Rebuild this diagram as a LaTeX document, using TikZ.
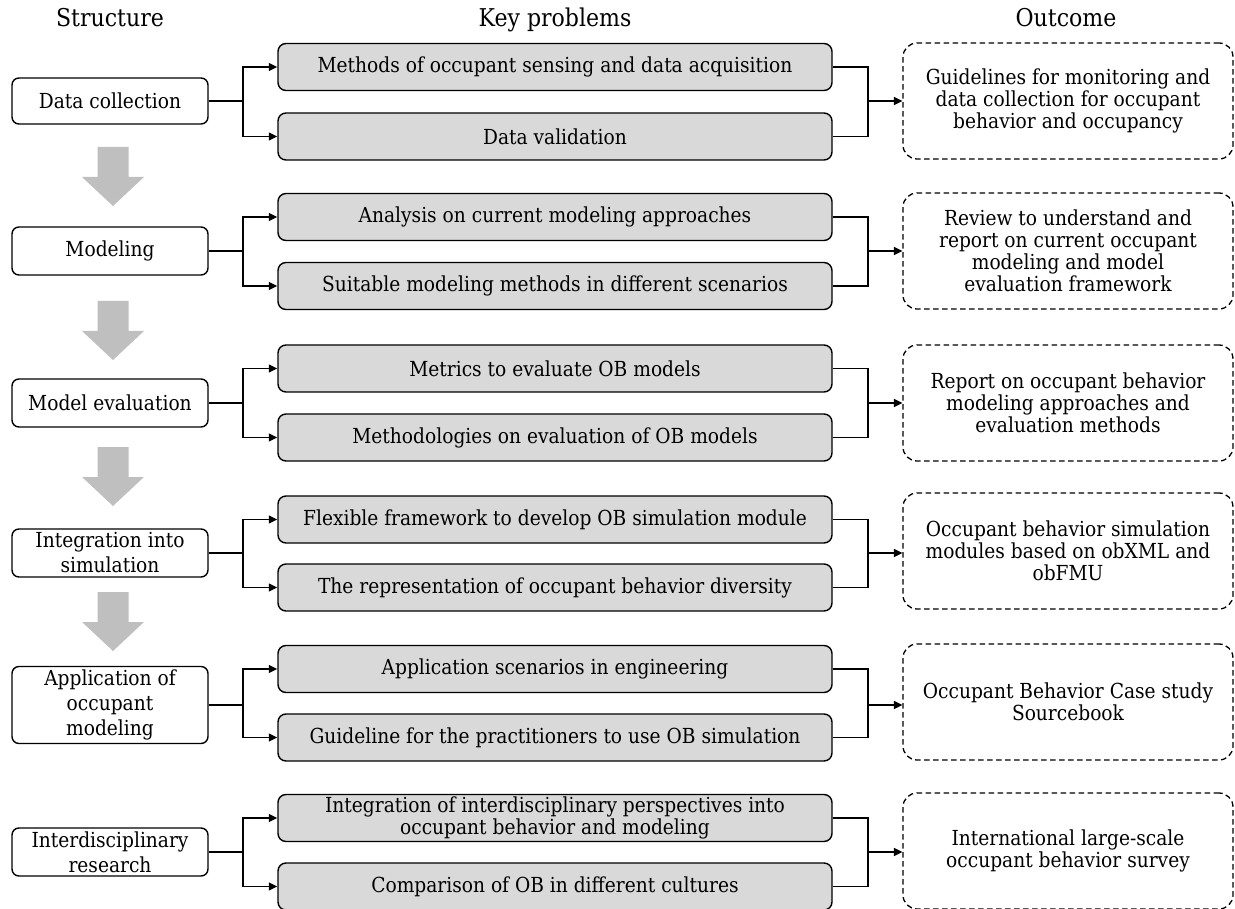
\documentclass[tikz,border=0pt]{standalone}
\usepackage{fontspec}
\setmainfont{DejaVu Serif}[FakeStretch=0.9]
\usetikzlibrary{arrows.meta}
\definecolor{boxgray}{HTML}{D9D9D9}
\definecolor{arrgray}{HTML}{BFBFBF}
\tikzset{
  txt/.style={font=\fontsize{20.7}{22}\selectfont, align=center, inner sep=0pt},
  head/.style={font=\fontsize{24.5}{26}\selectfont, inner sep=0pt, anchor=base},
  leftbox/.style={txt, font=\fontsize{20.7}{25}\selectfont, draw, line width=1.4pt, rounded corners=7pt, minimum width=196pt, fill=white},
  probbox/.style={txt, draw, line width=1.4pt, rounded corners=8pt, fill=boxgray, minimum width=554pt, minimum height=47pt},
  outbox/.style={txt, draw, line width=1.3pt, dash pattern=on 5.5pt off 3.5pt, rounded corners=14pt, minimum width=330pt, minimum height=116pt},
  conn/.style={line width=1.4pt},
  arr/.style={line width=1.4pt, -{Triangle[length=8.5pt,width=8pt]}},
}
\begin{document}
\begin{tikzpicture}[x=1pt,y=-1pt]
\useasboundingbox (0,0) rectangle (1235,909);
% headers
\node[head] (h1) at (110,27) {Structure};
\node[head] (h2) at (555,27) {Key problems};
\node[head] (h3) at (1066,27) {Outcome};
% gray arrows
\foreach \t in {147,301,447,592}{
  \fill[arrgray] (97.5,\t) -- (128.5,\t) -- (128.5,\t+30) -- (144,\t+30) -- (113,\t+59) -- (82,\t+30) -- (97.5,\t+30) -- cycle;
}
% left boxes
\node[leftbox, minimum height=46pt] (L1) at (110,101) {Data collection};
\node[leftbox, minimum height=48pt] (L2) at (110,251) {Modeling};
\node[leftbox, minimum height=48pt] (L3) at (110,403) {Model evaluation};
\node[leftbox, minimum height=48pt] (L4) at (110,553) {Integration into\\simulation};
\node[leftbox, minimum height=77pt] (L5) at (110,705) {Application of\\occupant\\modeling};
\node[leftbox, minimum height=48pt] (L6) at (110,852) {Interdisciplinary\\research};
% problem boxes
\node[probbox] (A1) at (555,67) {Methods of occupant sensing and data acquisition};
\node[probbox] (B1) at (555,136.5) {Data validation};
\node[probbox] (A2) at (555,217) {Analysis on current modeling approaches};
\node[probbox] (B2) at (555,286) {Suitable modeling methods in different scenarios};
\node[probbox] (A3) at (555,368.5) {Metrics to evaluate OB models};
\node[probbox] (B3) at (555,437.5) {Methodologies on evaluation of OB models};
\node[probbox] (A4) at (555,519.5) {Flexible framework to develop OB simulation module};
\node[probbox] (B4) at (555,587.5) {The representation of occupant behavior diversity};
\node[probbox] (A5) at (555,669) {Application scenarios in engineering};
\node[probbox] (B5) at (555,737.5) {Guideline for the practitioners to use OB simulation};
\node[probbox, font=\fontsize{20.7}{22.5}\selectfont] (A6) at (555,818) {Integration of interdisciplinary perspectives into\\occupant behavior and modeling};
\node[probbox] (B6) at (555,886.5) {Comparison of OB in different cultures};
% outcome boxes
\node[outbox] (O1) at (1068,101) {Guidelines for monitoring and\\data collection for occupant\\behavior and occupancy};
\node[outbox] (O2) at (1068,251) {Review to understand and\\report on current occupant\\modeling and model\\evaluation framework};
\node[outbox] (O3) at (1068,403) {Report on occupant behavior\\modeling approaches and\\evaluation methods};
\node[outbox] (O4) at (1068,551) {Occupant behavior simulation\\modules based on obXML and\\obFMU};
\node[outbox] (O5) at (1068,702) {Occupant Behavior Case study\\Sourcebook};
\node[outbox] (O6) at (1068,851) {International large-scale\\occupant behavior survey};
% connectors
\foreach \i/\y in {1/101,2/251,3/403,4/553,5/705,6/852}{
  \coordinate (jl\i) at (243,\y);
  \coordinate (jr\i) at (868,\y);
  \draw[conn] (L\i.east) -- (jl\i);
  \draw[arr] (jl\i) |- (A\i.west);
  \draw[arr] (jl\i) |- (B\i.west);
  \draw[conn] (A\i.east) -| (jr\i);
  \draw[conn] (B\i.east) -| (jr\i);
  \draw[arr] (jr\i) -- (O\i.west |- jr\i);
}
\end{tikzpicture}
\end{document}
